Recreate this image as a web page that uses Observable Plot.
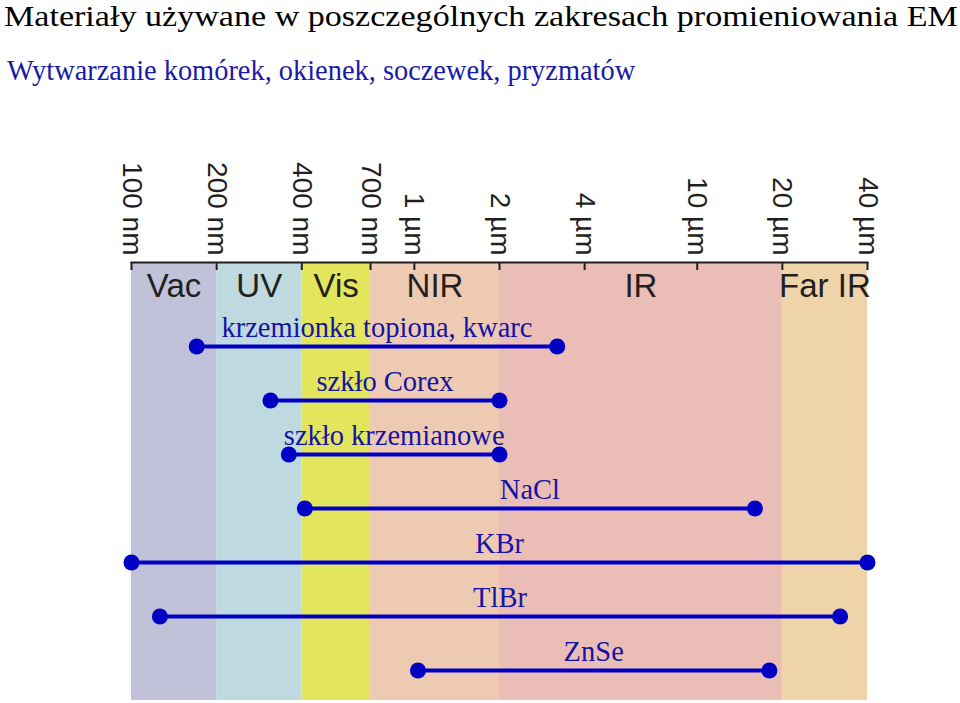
<!DOCTYPE html>
<html>
<head>
<meta charset="utf-8">
<script src="https://cdn.jsdelivr.net/npm/d3@7"></script>
<script src="https://cdn.jsdelivr.net/npm/@observablehq/plot@0.6"></script>
<style>
  html, body { margin: 0; padding: 0; background: #fff; }
  #title { font-family: "Liberation Serif", "Times New Roman", serif; font-size: 30px; line-height: 32px; color: #000; position: absolute; left: 4px; top: 0px; white-space: nowrap; transform: scaleX(1.136); transform-origin: 0 0; }
  #subtitle { font-family: "Liberation Serif", "Times New Roman", serif; font-size: 28.4px; line-height: 32px; color: #1a1aa8; position: absolute; left: 7px; top: 55px; white-space: nowrap; }
  #chart { position: absolute; left: 0; top: 95px; }
  svg { overflow: visible; }
</style>
</head>
<body>
<div id="title">Materiały używane w poszczególnych zakresach promieniowania EM</div>
<div id="subtitle">Wytwarzanie komórek, okienek, soczewek, pryzmatów</div>
<div id="chart"></div>
<script>
// Tick values (µm) and their labels
const tickValues = [0.1, 0.2, 0.4, 0.7, 1, 2, 4, 10, 20, 40];
const tickLabels = ["100 nm", "200 nm", "400 nm", "700 nm", "1 µm", "2 µm", "4 µm", "10 µm", "20 µm", "40 µm"];

// Spectral regions (µm)
const regionNames = ["Vac", "UV", "Vis", "NIR", "IR", "Far IR"];
const regionStart = [0.1, 0.2, 0.4, 0.7, 2, 20];
const regionEnd   = [0.2, 0.4, 0.7, 2, 20, 40];
const regionColors = ["#c1c1d9", "#bfd9e0", "#e3e55c", "#efcab3", "#ebbdb7", "#efd4a9"];

// Materials and transmission ranges (µm)
const materials = ["krzemionka topiona, kwarc", "szkło Corex", "szkło krzemianowe", "NaCl", "KBr", "TlBr", "ZnSe"];
const rangeMin = [0.17, 0.31, 0.36, 0.41, 0.1, 0.126, 1.03];
const rangeMax = [3.2, 2, 2, 16, 40, 32, 18];

const regions = regionNames.map((name, i) => ({name, x1: regionStart[i], x2: regionEnd[i], color: regionColors[i]}));
const mats = materials.map((name, i) => ({name, min: rangeMin[i], max: rangeMax[i]}));
const ticks = tickValues.map((v, i) => ({v, label: tickLabels[i]}));
const ends = mats.flatMap(d => [{name: d.name, x: d.min}, {name: d.name, x: d.max}]);

const H = 608, MT = 167, MB = 3;
const blue = "#0000c4";
const textBlue = "#1414a4";
const sans = "Liberation Sans, Arial, Helvetica, sans-serif";
const serif = "Liberation Serif, Times New Roman, serif";

const chart = Plot.plot({
  width: 960,
  height: H,
  marginTop: MT,
  marginBottom: MB,
  marginLeft: 131,
  marginRight: 93,
  x: {type: "log", domain: [0.1, 40], axis: null},
  y: {type: "point", domain: materials, axis: null, insetTop: 84, insetBottom: 30, padding: 0},
  color: {type: "identity"},
  marks: [
    Plot.rect(regions, {x1: "x1", x2: "x2", fill: "color"}),
    Plot.text(regions, {
      x: d => Math.sqrt(d.x1 * d.x2), text: "name", frameAnchor: "top",
      dy: 24, fontSize: 33, fontFamily: sans, fill: "#231f20", lineAnchor: "middle"
    }),
    Plot.frame({anchor: "top", stroke: "#231f20", strokeWidth: 2}),
    Plot.tickX(ticks, {x: "v", stroke: "#231f20", strokeWidth: 2, insetBottom: H - MT - MB - 8}),
    Plot.text(ticks, {
      x: "v", text: "label", frameAnchor: "top", rotate: 90, textAnchor: "end",
      lineAnchor: "middle", dy: -7, fontSize: 28, fontFamily: sans, fill: "#231f20"
    }),
    Plot.ruleY(mats, {y: "name", x1: "min", x2: "max", stroke: blue, strokeWidth: 4}),
    Plot.dot(ends, {x: "x", y: "name", r: 8, fill: blue, stroke: null}),
    Plot.text(mats, {
      x: d => Math.sqrt(d.min * d.max), y: "name", text: "name", dy: -10,
      lineAnchor: "bottom", fontSize: 28.5, fontFamily: serif, fill: textBlue
    })
  ]
});
document.getElementById("chart").appendChild(chart);
</script>
</body>
</html>
